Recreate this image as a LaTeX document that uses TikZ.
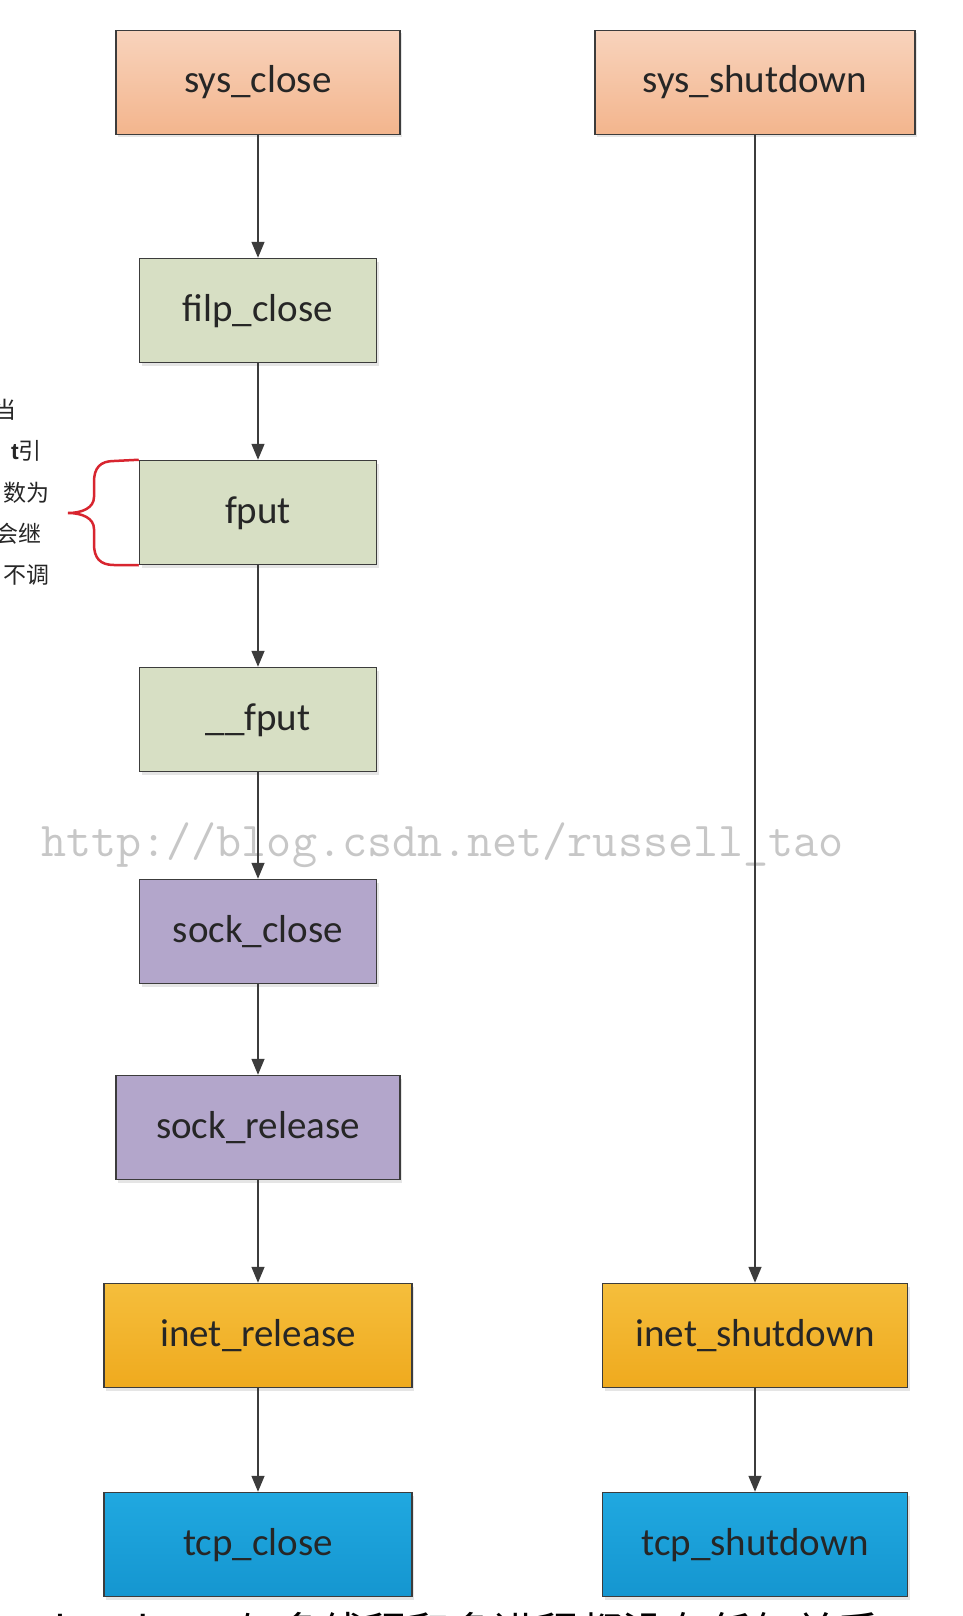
\documentclass[tikz,border=0pt]{standalone}
\usepackage{fontspec}
\usepackage{xcolor}
\usepackage{tikz}
\usetikzlibrary{arrows.meta,positioning,shadows}
\newfontfamily\boxfont{Carlito}
\newfontfamily\cjkfont{Noto Sans CJK SC}
\newfontfamily\latinbold{Liberation Sans}
\definecolor{peachtop}{HTML}{F8D3BC}
\definecolor{peachbot}{HTML}{F3B58D}
\definecolor{olivebox}{HTML}{D7DFC4}
\definecolor{lilacbox}{HTML}{B3A6CB}
\definecolor{ambertop}{HTML}{F5BE3C}
\definecolor{amberbot}{HTML}{EFAA1E}
\definecolor{skytop}{HTML}{20A8E0}
\definecolor{skybot}{HTML}{1596D0}
\definecolor{edgegray}{HTML}{3C3C3C}
\definecolor{bracered}{HTML}{D8252F}

\begin{document}
\begin{tikzpicture}[x = 1pt, y = -1pt, node distance = 100pt]
        \tikzstyle{component} = [rectangle, draw = edgegray, line width = 1.5pt, align = center, inner sep = 0, minimum height = 104pt, text height = 27pt, text depth = 6pt, text = black!85, font = \boxfont\fontsize{39}{39}\selectfont, drop shadow = {opacity = 0.2, shadow xshift = 2pt, shadow yshift = -3pt}]
        \tikzstyle{syscall} = [component, top color = peachtop, bottom color = peachbot]
        \tikzstyle{vfsbox} = [component, fill = olivebox]
        \tikzstyle{sockbox} = [component, fill = lilacbox]
        \tikzstyle{inetbox} = [component, top color = ambertop, bottom color = amberbot]
        \tikzstyle{tcpbox} = [component, top color = skytop, bottom color = skybot]
        \tikzstyle{note} = [inner sep = 0, anchor = base east, text = black!85, font = \cjkfont\fontsize{23}{23}\selectfont]
        \tikzstyle{flow} = [draw = edgegray, line width = 1.5pt, -{Triangle[length = 16pt, width = 13pt]}]
        \useasboundingbox (0,0) rectangle (962,1616);
        \fill [white] (0,0) rectangle (962,1616);
        % watermark behind the arrows
        \node (watermark) [anchor = base west, inner sep = 0, text = black!22, font = \ttfamily\fontsize{48.7}{48.7}\selectfont] at (41,856) {http://blog.csdn.net/russell\_tao};
        \node (sysclose) [syscall, minimum width = 284pt] at (258,82.5) {sys\_close};
        \node (filpclose) [vfsbox, minimum width = 237pt, below = 122.5pt of sysclose] {filp\_close};
        \node (fput) [vfsbox, minimum width = 237pt, below = 96.5pt of filpclose] {fput};
        \node (underfput) [vfsbox, minimum width = 237pt, below = 101.5pt of fput] {\_\_fput};
        \node (sockclose) [sockbox, minimum width = 237pt, below = 106.5pt of underfput] {sock\_close};
        \node (sockrelease) [sockbox, minimum width = 284pt, below = 90.5pt of sockclose] {sock\_release};
        \node (inetrelease) [inetbox, minimum width = 308pt, below = 102.5pt of sockrelease] {inet\_release};
        \node (tcpclose) [tcpbox, minimum width = 308pt, below = 103.5pt of inetrelease] {tcp\_close};
        \node (sysshutdown) [syscall, minimum width = 320pt] at (755,82.5) {sys\_shutdown};
        \node (inetshutdown) [inetbox, minimum width = 305pt] at (sysshutdown |- inetrelease) {inet\_shutdown};
        \node (tcpshutdown) [tcpbox, minimum width = 305pt] at (sysshutdown |- tcpclose) {tcp\_shutdown};
        \draw [flow] (sysclose) -- (filpclose);
        \draw [flow] (filpclose) -- (fput);
        \draw [flow] (fput) -- (underfput);
        \draw [flow] (underfput) -- (sockclose);
        \draw [flow] (sockclose) -- (sockrelease);
        \draw [flow] (sockrelease) -- (inetrelease);
        \draw [flow] (inetrelease) -- (tcpclose);
        \draw [flow] (sysshutdown) -- (inetshutdown);
        \draw [flow] (inetshutdown) -- (tcpshutdown);
        % red brace on the left of fput
        \draw [bracered, line width = 2.5pt] (fput.north west) -- (114,461) .. controls (100,461) and (94,468) .. (94,482) -- (94,497) .. controls (94,508) and (82,513) .. (68,513) .. controls (82,513) and (94,518) .. (94,529) -- (94,544) .. controls (94,558) and (100,565) .. (114,565) -- (fput.south west);
        \node (note1) [note] at (17,418) {当};
        \node (note2) [note] at (42,459) {{\latinbold\bfseries t}引};
        \node (note3) [note] at (50,501) {数为};
        \node (note4) [note] at (42,542) {会继};
        \node (note5) [note] at (50,583) {不调};
        \node (caption) [inner sep = 0, anchor = base east, font = \cjkfont\fontsize{43}{43}\selectfont] at (924,1648) {shutdown与多线程和多进程都没有任何关系，};
    \end{tikzpicture}
\end{document}
